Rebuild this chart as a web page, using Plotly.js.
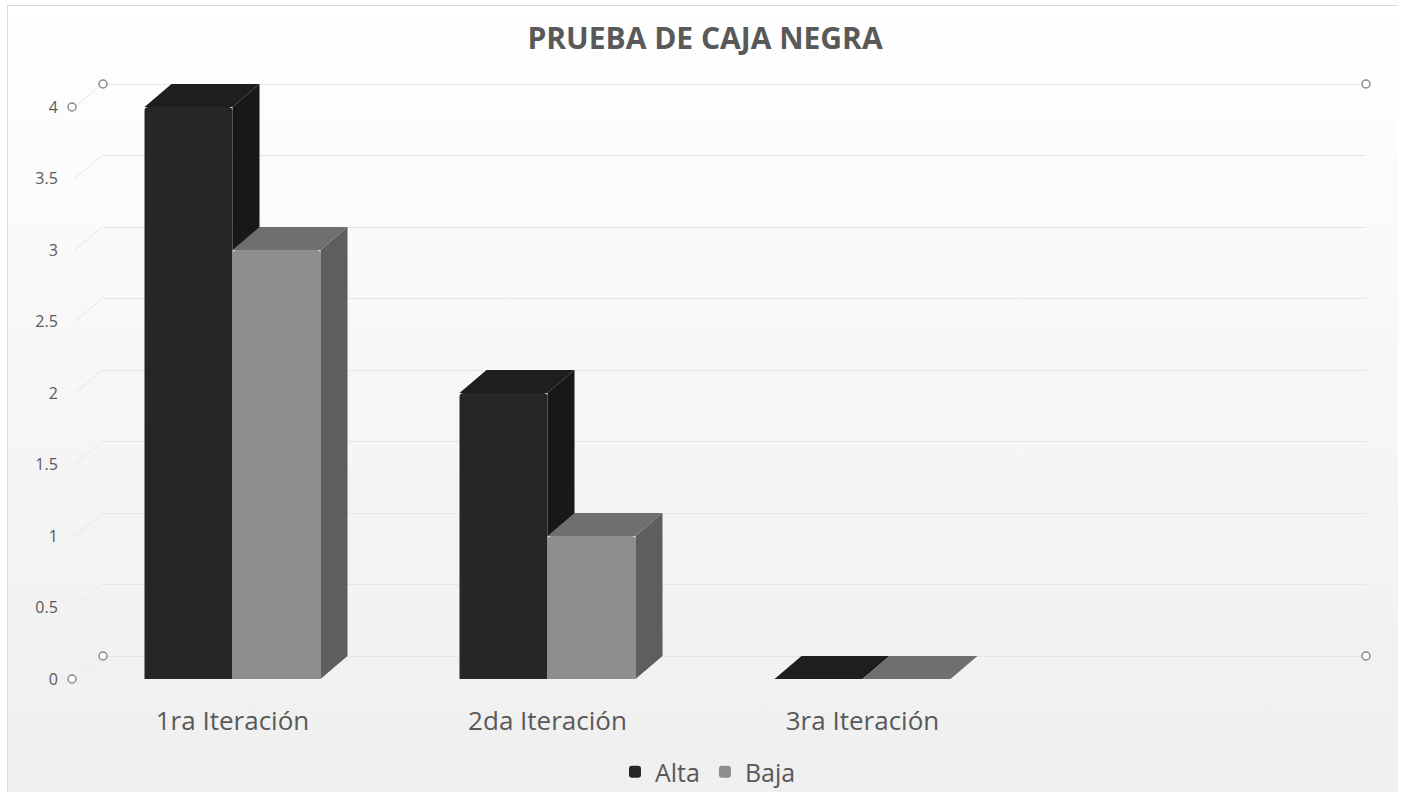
<!DOCTYPE html>
<html>
<head>
<meta charset="utf-8">
<script src="https://cdn.plot.ly/plotly-3.0.1.min.js"></script>
<style>
  html, body { margin: 0; padding: 0; background: #ffffff; }
  #frame { position: absolute; left: 7px; top: 5px; width: 1390px; height: 790px;
           border-left: 1px solid #d9d9d9; border-top: 1px solid #d9d9d9;
           background: linear-gradient(to bottom, #ffffff 0%, #f7f7f7 45%, #efefef 100%); }
  #chart { position: absolute; left: 0; top: 0; width: 1403px; height: 792px; }
</style>
</head>
<body>
<div id="frame"></div>
<div id="chart"></div>
<script>
// ---- data ----
const categories = ["1ra Iteración", "2da Iteración", "3ra Iteración"];
const alta = [4, 2, 0];
const baja = [3, 1, 0];
const seriesNames = ["Alta", "Baja"];
const yTicks = [0, 0.5, 1, 1.5, 2, 2.5, 3, 3.5, 4];
const chartTitle = "PRUEBA DE CAJA NEGRA";

// ---- geometry / style (pixels -> axis units) ----
const W = 1403, H = 792;
const catPx = 315;      // pixels per category
const unitPx = 143;     // pixels per y unit
const frontLeftPx = 75, frontZeroPx = 679;
const depthX = 27, depthY = 23;  // 3D depth offset in pixels
const dx = depthX / catPx, dy = depthY / unitPx;
const bw = 88 / catPx;  // bar face width in category units

const plotL = 40, plotR = 1393, plotT = 60, plotB = 692;
const xr = [(plotL - frontLeftPx) / catPx - 0.5, (plotR - frontLeftPx) / catPx - 0.5];
const yr = [(frontZeroPx - plotB) / unitPx, (frontZeroPx - plotT) / unitPx];
const yrBack = [yr[0] - dy, yr[1] - dy];
const xs = categories.map((_, i) => i);

const cAltaFront = '#262626', cAltaSide = '#181818', cAltaTop = '#1e1e1e';
const cBajaFront = '#8e8e8e', cBajaSide = '#5e5e5e', cBajaTop = '#6f6f6f';

function polys(list) {
  const X = [], Y = [];
  list.forEach(p => {
    if (!p) return;
    p.forEach(pt => { X.push(pt[0]); Y.push(pt[1]); });
    X.push(p[0][0]); Y.push(p[0][1]);
    X.push(null); Y.push(null);
  });
  return {X, Y};
}

const altaSide = polys(xs.map((c, i) => {
  const va = alta[i], vb = baja[i];
  if (va <= vb) return null;
  return [[c, Math.max(0, vb)], [c, va], [c + dx, va + dy], [c + dx, Math.max(dy, vb)]];
}));
const altaTop = polys(xs.map((c, i) => {
  const v = alta[i];
  return [[c - bw, v], [c, v], [c + dx, v + dy], [c - bw + dx, v + dy]];
}));
const bajaSide = polys(xs.map((c, i) => {
  const v = baja[i], r = c + bw;
  return [[r, 0], [r, v], [r + dx, v + dy], [r + dx, dy]];
}));
const bajaTop = polys(xs.map((c, i) => {
  const v = baja[i];
  return [[c, v], [c + bw, v], [c + bw + dx, v + dy], [c + dx, v + dy]];
}));

function face(p, color) {
  return { type: 'scatter', mode: 'lines', x: p.X, y: p.Y, fill: 'toself',
           fillcolor: color, line: {width: 0, color: color}, hoverinfo: 'skip',
           showlegend: false, xaxis: 'x2', yaxis: 'y2' };
}

const traces = [
  // empty trace so the back-wall grid subplot is drawn
  { type: 'scatter', mode: 'none', x: [], y: [], showlegend: false, hoverinfo: 'skip', xaxis: 'x', yaxis: 'y' },
  { type: 'bar', name: seriesNames[0], x: xs, y: alta, offset: -bw, width: bw,
    marker: {color: cAltaFront, line: {width: 0}, cornerradius: 4},
    xaxis: 'x2', yaxis: 'y2' },
  { type: 'bar', name: seriesNames[1], x: xs, y: baja, offset: 0, width: bw,
    marker: {color: cBajaFront, line: {width: 0}, cornerradius: 4},
    xaxis: 'x2', yaxis: 'y2' },
  face(altaSide, cAltaSide),
  face(altaTop, cAltaTop),
  face(bajaSide, cBajaSide),
  face(bajaTop, cBajaTop)
];

// wall diagonal lines and corner circles
const shapes = [];
yTicks.forEach(v => {
  shapes.push({ type: 'line', xref: 'x2', yref: 'y2', x0: -0.5, y0: v, x1: -0.5 + dx, y1: v + dy,
                line: {color: '#e6e6e6', width: 1}, layer: 'below' });
});
const ymax = yTicks[yTicks.length - 1];
const corners = [
  [-0.5 - 3 / catPx, 0], [-0.5 - 3 / catPx, ymax],
  [-0.5 + dx + 1 / catPx, dy], [-0.5 + dx + 1 / catPx, ymax + dy],
  [xr[0] + (1366 - plotL) / catPx, dy], [xr[0] + (1366 - plotL) / catPx, ymax + dy]
];
corners.forEach(c => {
  shapes.push({ type: 'circle', xref: 'x2', yref: 'y2', xsizemode: 'pixel', ysizemode: 'pixel',
                xanchor: c[0], yanchor: c[1], x0: -4, x1: 4, y0: -4, y1: 4,
                line: {color: '#8a8a8a', width: 1.5}, fillcolor: '#ffffff' });
});

const font = "'Open Sans', 'Noto Sans', sans-serif";
const layout = {
  width: W, height: H,
  margin: {l: 0, r: 0, t: 0, b: 0, autoexpand: false},
  paper_bgcolor: 'rgba(0,0,0,0)', plot_bgcolor: 'rgba(0,0,0,0)',
  title: { text: '<b>' + chartTitle + '</b>', x: 705 / W, xref: 'paper', xanchor: 'center',
           y: 1 - 38 / H, yref: 'paper', yanchor: 'middle',
           font: {family: font, size: 30, color: '#595959'} },
  showlegend: true,
  legend: { orientation: 'h', x: 708 / W, xanchor: 'center', y: 1 - 772 / H, yanchor: 'middle',
            font: {family: font, size: 25, color: '#595959'}, bgcolor: 'rgba(0,0,0,0)',
            itemwidth: 30, tracegroupgap: 0 },
  barmode: 'overlay',
  // back wall grid subplot
  xaxis: { domain: [103 / W, 1366 / W], range: [0, 1], visible: false, fixedrange: true },
  yaxis: { domain: [1 - plotB / H, 1 - plotT / H], range: yrBack, tickvals: yTicks,
           showticklabels: false, ticks: '', showgrid: true, gridcolor: '#e6e6e6', gridwidth: 1,
           zeroline: false, showline: false, fixedrange: true },
  // bars subplot
  xaxis2: { domain: [plotL / W, plotR / W], range: xr, anchor: 'y2', tickvals: xs, ticktext: categories,
            ticks: 'outside', ticklen: 6, tickcolor: 'rgba(0,0,0,0)', showgrid: false, zeroline: false,
            showline: false, tickfont: {family: font, size: 26, color: '#595959'}, fixedrange: true },
  yaxis2: { domain: [1 - plotB / H, 1 - plotT / H], range: yr, anchor: 'free', position: frontLeftPx / W,
            tickvals: yTicks, ticktext: yTicks.map(String),
            ticks: 'outside', ticklen: 14, tickcolor: 'rgba(0,0,0,0)', showgrid: false, zeroline: false,
            showline: false, tickfont: {family: font, size: 16, color: '#595959'}, fixedrange: true },
  shapes: shapes
};

Plotly.newPlot('chart', traces, layout, {displayModeBar: false, staticPlot: true});
</script>
</body>
</html>
